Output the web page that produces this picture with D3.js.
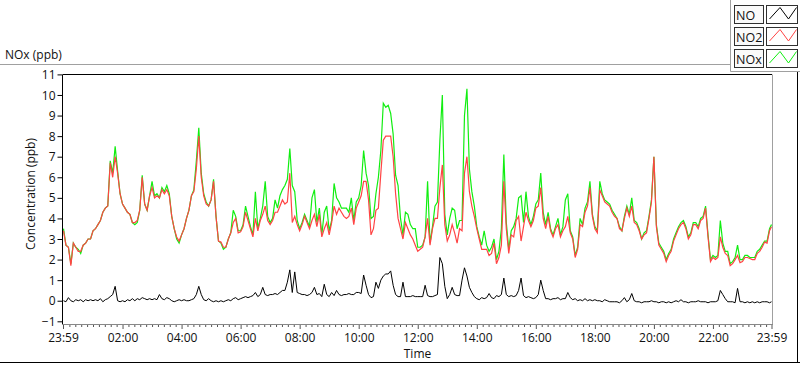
<!DOCTYPE html>
<html><head><meta charset="utf-8">
<script src="https://cdn.jsdelivr.net/npm/d3@7/dist/d3.min.js"></script>
<style>
body{margin:0;background:#fff}
svg{display:block}
text{font-family:"Open Sans","Noto Sans",sans-serif;fill:#111}
</style>
</head><body>
<svg id="chart" width="800" height="365"></svg>
<script>
// ---------- DATA (5-minute samples from 00:00, final point at 23:59) ----------
const seriesNames = ["NO", "NO2", "NOx"];
const xTickMinutes = [-1, 120, 240, 360, 480, 600, 720, 840, 960, 1080, 1200, 1320, 1439];
const xTickLabels = ["23:59","02:00","04:00","06:00","08:00","10:00","12:00","14:00","16:00","18:00","20:00","22:00","23:59"];
const yTicks = [-1,0,1,2,3,4,5,6,7,8,9,10,11];

const no2 = [
 3.4,2.7,2.6,1.7,2.8,2.6,2.4,2.4,2.7,2.8,3.0,3.0,
 3.4,3.5,3.7,3.9,4.3,4.5,4.6,6.7,6.0,7.0,6.2,5.2,
 4.7,4.5,4.3,4.2,3.8,3.8,3.9,4.4,6.0,4.7,4.4,5.1,
 5.5,5.0,5.1,5.0,5.4,5.2,5.4,5.1,4.1,3.5,3.1,2.9,
 3.2,3.5,4.0,4.4,5.1,5.3,6.4,8.0,6.0,5.1,4.7,4.6,
 4.9,5.8,4.1,2.9,2.85,2.6,2.6,3.0,3.3,3.8,4.0,3.3,
 3.35,3.6,4.3,3.9,3.5,3.1,4.0,3.4,3.9,4.2,4.6,3.9,
 3.7,3.9,4.3,4.3,4.6,4.9,4.7,4.8,6.2,3.8,4.1,3.7,
 3.4,3.7,4.1,3.8,3.5,3.9,4.2,3.6,4.2,3.1,3.5,3.8,
 3.2,3.8,4.6,4.2,4.5,4.3,4.1,4.0,4.1,4.5,3.7,4.5,
 4.8,5.1,5.8,5.8,4.9,3.2,3.5,4.4,4.5,6.2,7.8,8.0,
 8.0,8.0,7.0,5.2,4.0,3.5,3.0,3.8,3.5,3.2,3.0,2.7,
 2.4,2.5,2.6,3.1,4.0,2.7,3.5,4.0,4.0,5.5,6.6,3.7,
 2.9,3.2,3.7,3.3,2.8,3.5,3.4,6.2,7.0,5.3,4.6,4.1,
 3.5,3.0,2.5,2.5,2.5,2.2,2.3,2.8,1.8,2.1,2.7,5.8,
 3.5,2.3,3.2,3.1,3.9,4.1,2.9,3.6,4.3,3.9,3.6,3.9,
 4.5,4.6,5.5,4.0,3.5,4.1,3.4,3.1,3.5,3.7,3.1,3.4,
 3.6,4.1,3.3,3.0,2.1,2.5,3.7,3.6,4.3,4.6,5.5,4.1,
 3.5,3.3,5.4,5.1,4.8,4.7,4.6,4.3,4.1,4.0,3.5,3.4,
 4.0,4.5,4.1,4.6,3.8,3.7,3.4,3.0,3.2,3.3,4.0,4.8,
 7.0,3.6,2.7,2.5,2.3,1.9,2.2,2.4,2.9,3.2,3.5,3.7,
 3.8,3.5,3.0,3.2,3.7,3.7,3.5,3.9,4.0,4.5,3.1,1.9,
 2.1,2.0,2.1,3.1,2.6,2.3,2.2,1.7,1.8,2.0,2.2,1.85,
 1.9,2.1,2.1,2.05,2.0,2.0,2.3,2.4,2.6,2.85,2.8,3.4,
 3.6
];
const nox = [
 3.5,2.7,2.6,1.8,2.8,2.6,2.5,2.3,2.7,2.8,3.0,3.0,
 3.4,3.5,3.7,3.9,4.3,4.5,4.6,6.8,6.2,7.5,6.3,5.2,
 4.7,4.5,4.3,4.2,3.8,3.7,3.8,4.4,6.1,4.7,4.4,5.1,
 5.8,5.1,5.2,5.0,5.5,5.3,5.6,5.2,4.1,3.5,3.0,2.8,
 3.2,3.5,4.0,4.4,5.1,5.4,6.8,8.4,6.2,5.2,4.8,4.6,
 4.9,5.9,4.1,2.9,2.8,2.5,2.6,3.0,3.3,4.4,4.1,3.4,
 3.4,3.7,4.6,4.1,3.6,3.2,5.3,3.5,4.0,4.6,5.8,4.1,
 3.8,4.0,4.9,4.5,5.1,5.4,5.6,5.9,7.4,5.6,5.3,3.9,
 3.5,3.8,4.2,3.9,3.6,5.0,5.4,3.8,4.5,3.2,4.3,4.6,
 3.4,3.9,5.7,5.0,4.8,4.5,4.5,4.5,4.3,5.0,3.9,4.8,
 5.0,5.6,7.3,6.2,5.6,4.0,4.1,5.2,6.0,7.3,9.6,9.4,
 9.5,9.1,8.1,6.1,5.6,4.0,3.2,4.3,4.2,3.7,3.5,3.5,
 2.6,2.6,2.7,3.1,5.8,2.8,3.6,4.6,4.8,7.8,10.0,4.2,
 3.2,4.0,4.5,4.4,3.5,3.9,3.9,9.0,10.3,6.4,5.3,4.6,
 3.6,3.1,2.7,3.4,2.7,2.4,2.6,3.0,2.0,2.4,3.5,7.1,
 3.8,2.5,3.4,3.6,4.0,5.0,5.1,3.8,5.3,4.1,3.7,4.1,
 4.7,4.9,6.2,4.3,3.7,4.3,3.5,3.2,3.6,4.0,3.2,3.6,
 4.9,5.2,3.4,3.1,2.2,2.6,4.0,3.7,4.5,4.8,5.8,4.2,
 3.6,3.4,5.8,5.2,4.9,4.8,4.7,4.4,4.2,4.0,3.6,3.4,
 4.1,4.6,4.2,5.0,3.9,3.8,3.5,3.0,3.3,3.4,4.1,4.9,
 7.0,3.7,2.8,2.6,2.4,2.0,2.3,2.5,3.0,3.3,3.6,3.8,
 3.9,3.6,3.1,3.3,3.8,3.8,3.6,4.0,4.1,4.6,3.2,2.0,
 2.2,2.1,2.2,3.9,2.8,2.4,2.4,1.8,1.9,2.1,2.7,2.0,
 2.0,2.2,2.2,2.1,2.1,2.1,2.4,2.5,2.7,2.9,2.9,3.5,
 3.7
];
const no = [
 0.0,-0.05,0.15,0.0,-0.05,0.05,0.0,0.05,-0.05,0.05,0.0,0.05,
 0.0,0.05,0.0,0.1,-0.05,0.05,0.1,0.2,0.3,0.7,0.0,-0.05,
 0.0,-0.05,0.05,0.0,0.1,0.0,0.1,0.05,0.15,0.1,0.05,0.1,
 0.05,0.1,0.05,0.3,0.1,0.05,0.15,0.1,0.0,-0.05,0.0,0.05,
 0.0,0.05,0.0,0.0,0.05,0.1,0.3,0.7,0.3,0.05,0.0,0.1,
 0.0,-0.05,0.0,-0.05,0.0,-0.05,0.0,0.05,0.0,0.1,0.15,0.05,
 0.1,0.15,0.2,0.15,0.2,0.25,0.4,0.2,0.3,0.65,0.3,0.25,
 0.3,0.3,0.35,0.3,0.4,0.5,0.5,0.9,1.5,0.4,1.4,0.4,
 0.35,0.3,0.3,0.25,0.3,0.4,0.65,0.3,0.35,0.2,0.8,0.3,
 0.2,0.4,0.25,0.5,0.3,0.25,0.3,0.3,0.35,0.3,0.3,0.4,
 0.4,0.35,1.25,0.75,0.3,0.15,0.2,0.9,0.6,1.0,1.2,1.3,
 1.3,1.45,0.75,0.3,0.2,0.2,0.9,0.2,0.2,0.2,0.25,0.2,
 0.2,0.2,0.2,0.75,0.25,0.2,0.2,0.25,0.3,2.1,1.8,0.7,
 0.1,0.3,0.65,0.3,0.25,0.25,1.0,1.6,1.2,0.65,0.4,0.2,
 0.1,0.05,0.15,0.1,0.15,0.35,0.15,0.1,0.25,0.2,0.3,1.1,
 0.3,0.2,0.25,0.2,0.25,0.5,1.1,0.25,0.15,0.2,0.15,0.1,
 0.15,0.3,1.0,0.5,0.1,0.1,0.05,0.1,0.1,0.15,0.05,0.1,
 0.1,0.4,0.15,0.05,0.1,0.0,0.05,0.0,0.1,0.0,0.05,0.0,
 0.05,0.0,0.0,-0.05,0.05,0.0,-0.05,-0.05,-0.05,-0.05,-0.1,0.0,
 0.15,-0.05,0.05,0.35,0.0,-0.05,-0.05,-0.1,-0.05,-0.05,-0.05,0.0,
 -0.05,-0.05,-0.1,-0.05,-0.05,-0.1,-0.05,-0.1,-0.05,0.0,-0.05,0.05,
 -0.05,-0.05,-0.1,-0.05,-0.05,-0.05,0.0,-0.05,-0.05,-0.05,-0.1,-0.05,
 -0.05,-0.05,0.0,0.5,0.3,0.1,-0.05,-0.05,-0.05,-0.1,0.6,-0.05,
 -0.05,-0.1,-0.05,-0.1,-0.05,-0.1,-0.05,-0.1,-0.05,-0.05,-0.05,-0.1,
 -0.05
];
const timeMinutes = d3.range(0, 1440, 5).concat([1439]);

// ---------- STYLE ----------
const colors = {NO: "#000000", NO2: "#ff4444", NOx: "#11ee11"};
const svg = d3.select("#chart");
const pLeft = 63, pRight = 772, pTop = 74.5, pBottom = 324;

const x = d3.scaleLinear().domain([-1, 1439]).range([pLeft, pRight - 0.5]);
const y = d3.scaleLinear().domain([-1, 11]).range([321.3, 74.4]);

// label bar and legend panel frame
svg.append("text").attr("x", 5).attr("y", 59).attr("font-size", 12).text("NOx (ppb)");
svg.append("line").attr("x1", 0).attr("x2", 731).attr("y1", 64.5).attr("y2", 64.5).attr("stroke", "#a0a0a0");
svg.append("line").attr("x1", 730.5).attr("x2", 730.5).attr("y1", 0).attr("y2", 71.5).attr("stroke", "#a0a0a0");
svg.append("line").attr("x1", 730.5).attr("x2", 800).attr("y1", 71.5).attr("y2", 71.5).attr("stroke", "#a0a0a0");
svg.append("line").attr("x1", 0).attr("x2", 800).attr("y1", 362.5).attr("y2", 362.5).attr("stroke", "#000");
svg.append("line").attr("x1", 797.5).attr("x2", 797.5).attr("y1", 72).attr("y2", 363).attr("stroke", "#000");

// plot frame
svg.append("line").attr("x1", pLeft).attr("x2", pRight).attr("y1", pTop).attr("y2", pTop).attr("stroke", "#000");
svg.append("line").attr("x1", pRight + 0.5).attr("x2", pRight + 0.5).attr("y1", pTop).attr("y2", pBottom).attr("stroke", "#a0a0a0");

// lines
svg.append("clipPath").attr("id", "clip").append("rect")
  .attr("x", pLeft).attr("y", pTop).attr("width", pRight - pLeft).attr("height", pBottom - pTop);
const g = svg.append("g").attr("clip-path", "url(#clip)");
const mk = arr => d3.line().x((d, i) => x(timeMinutes[i])).y(d => y(d))(arr);
g.append("path").attr("d", mk(nox)).attr("fill", "none").attr("stroke", colors.NOx).attr("stroke-width", 1.2);
g.append("path").attr("d", mk(no2)).attr("fill", "none").attr("stroke", colors.NO2).attr("stroke-width", 1.2);
g.append("path").attr("d", mk(no)).attr("fill", "none").attr("stroke", colors.NO).attr("stroke-width", 1);

// y axis
const yAxis = d3.axisLeft(y).tickValues(yTicks).tickSize(5).tickSizeOuter(0).tickPadding(2).tickFormat(d3.format("d"));
const ya = svg.append("g").attr("transform", `translate(${pLeft - 0.5},0)`).call(yAxis);
ya.select(".domain").remove();
ya.selectAll("line").attr("stroke", "#000");
ya.selectAll("text").attr("font-size", 12).attr("font-family", "Open Sans").attr("fill", "#111").attr("dy", "0.34em");
svg.append("line").attr("x1", pLeft - 0.5).attr("x2", pLeft - 0.5).attr("y1", pTop).attr("y2", pBottom).attr("stroke", "#000");

// x axis
const minor = d3.range(12, 1439, 12).filter(m => m % 120 !== 0);
const xMinor = d3.axisBottom(x).tickValues(minor).tickSize(3).tickFormat("").tickSizeOuter(0);
const xm = svg.append("g").attr("transform", `translate(0,${pBottom})`).call(xMinor);
xm.select(".domain").remove();
xm.selectAll("line").attr("stroke", "#555");
const xAxis = d3.axisBottom(x).tickValues(xTickMinutes).tickSize(5).tickSizeOuter(0).tickPadding(4)
  .tickFormat((d, i) => xTickLabels[i]);
const xa = svg.append("g").attr("transform", `translate(0,${pBottom})`).call(xAxis);
xa.select(".domain").remove();
xa.selectAll("line").attr("stroke", "#555");
xa.selectAll("text").attr("font-size", 12).attr("font-family", "Open Sans").attr("fill", "#111");
svg.append("line").attr("x1", pLeft - 1).attr("x2", pRight + 1).attr("y1", pBottom + 0.5).attr("y2", pBottom + 0.5).attr("stroke", "#888");

// axis titles
svg.append("text").attr("x", (pLeft + pRight) / 2).attr("y", 358).attr("text-anchor", "middle").attr("font-size", 12).text("Time");
svg.append("text").attr("transform", "translate(35,194) rotate(-90)").attr("text-anchor", "middle").attr("font-size", 12).text("Concentration (ppb)");

// legend
const lg = svg.append("g");
seriesNames.forEach((name, i) => {
  const yy = 6 + i * 22;
  lg.append("rect").attr("x", 734.5).attr("y", yy - 0.5).attr("width", 29).attr("height", 18)
    .attr("fill", "#fafafa").attr("stroke", "#303030");
  lg.append("text").attr("x", 736).attr("y", yy + 13.5).attr("font-size", 12.5).text(name);
  lg.append("rect").attr("x", 766.5).attr("y", yy - 0.5).attr("width", 31).attr("height", 18)
    .attr("fill", "#fff").attr("stroke", "#303030");
  const pts = [[769.5, yy + 13], [780, yy + 1.5], [788.5, yy + 13], [796.5, yy + 1.5]];
  lg.append("polyline").attr("points", pts.map(p => p.join(",")).join(" "))
    .attr("fill", "none").attr("stroke", colors[name]).attr("stroke-width", 1);
});
</script>
</body></html>
